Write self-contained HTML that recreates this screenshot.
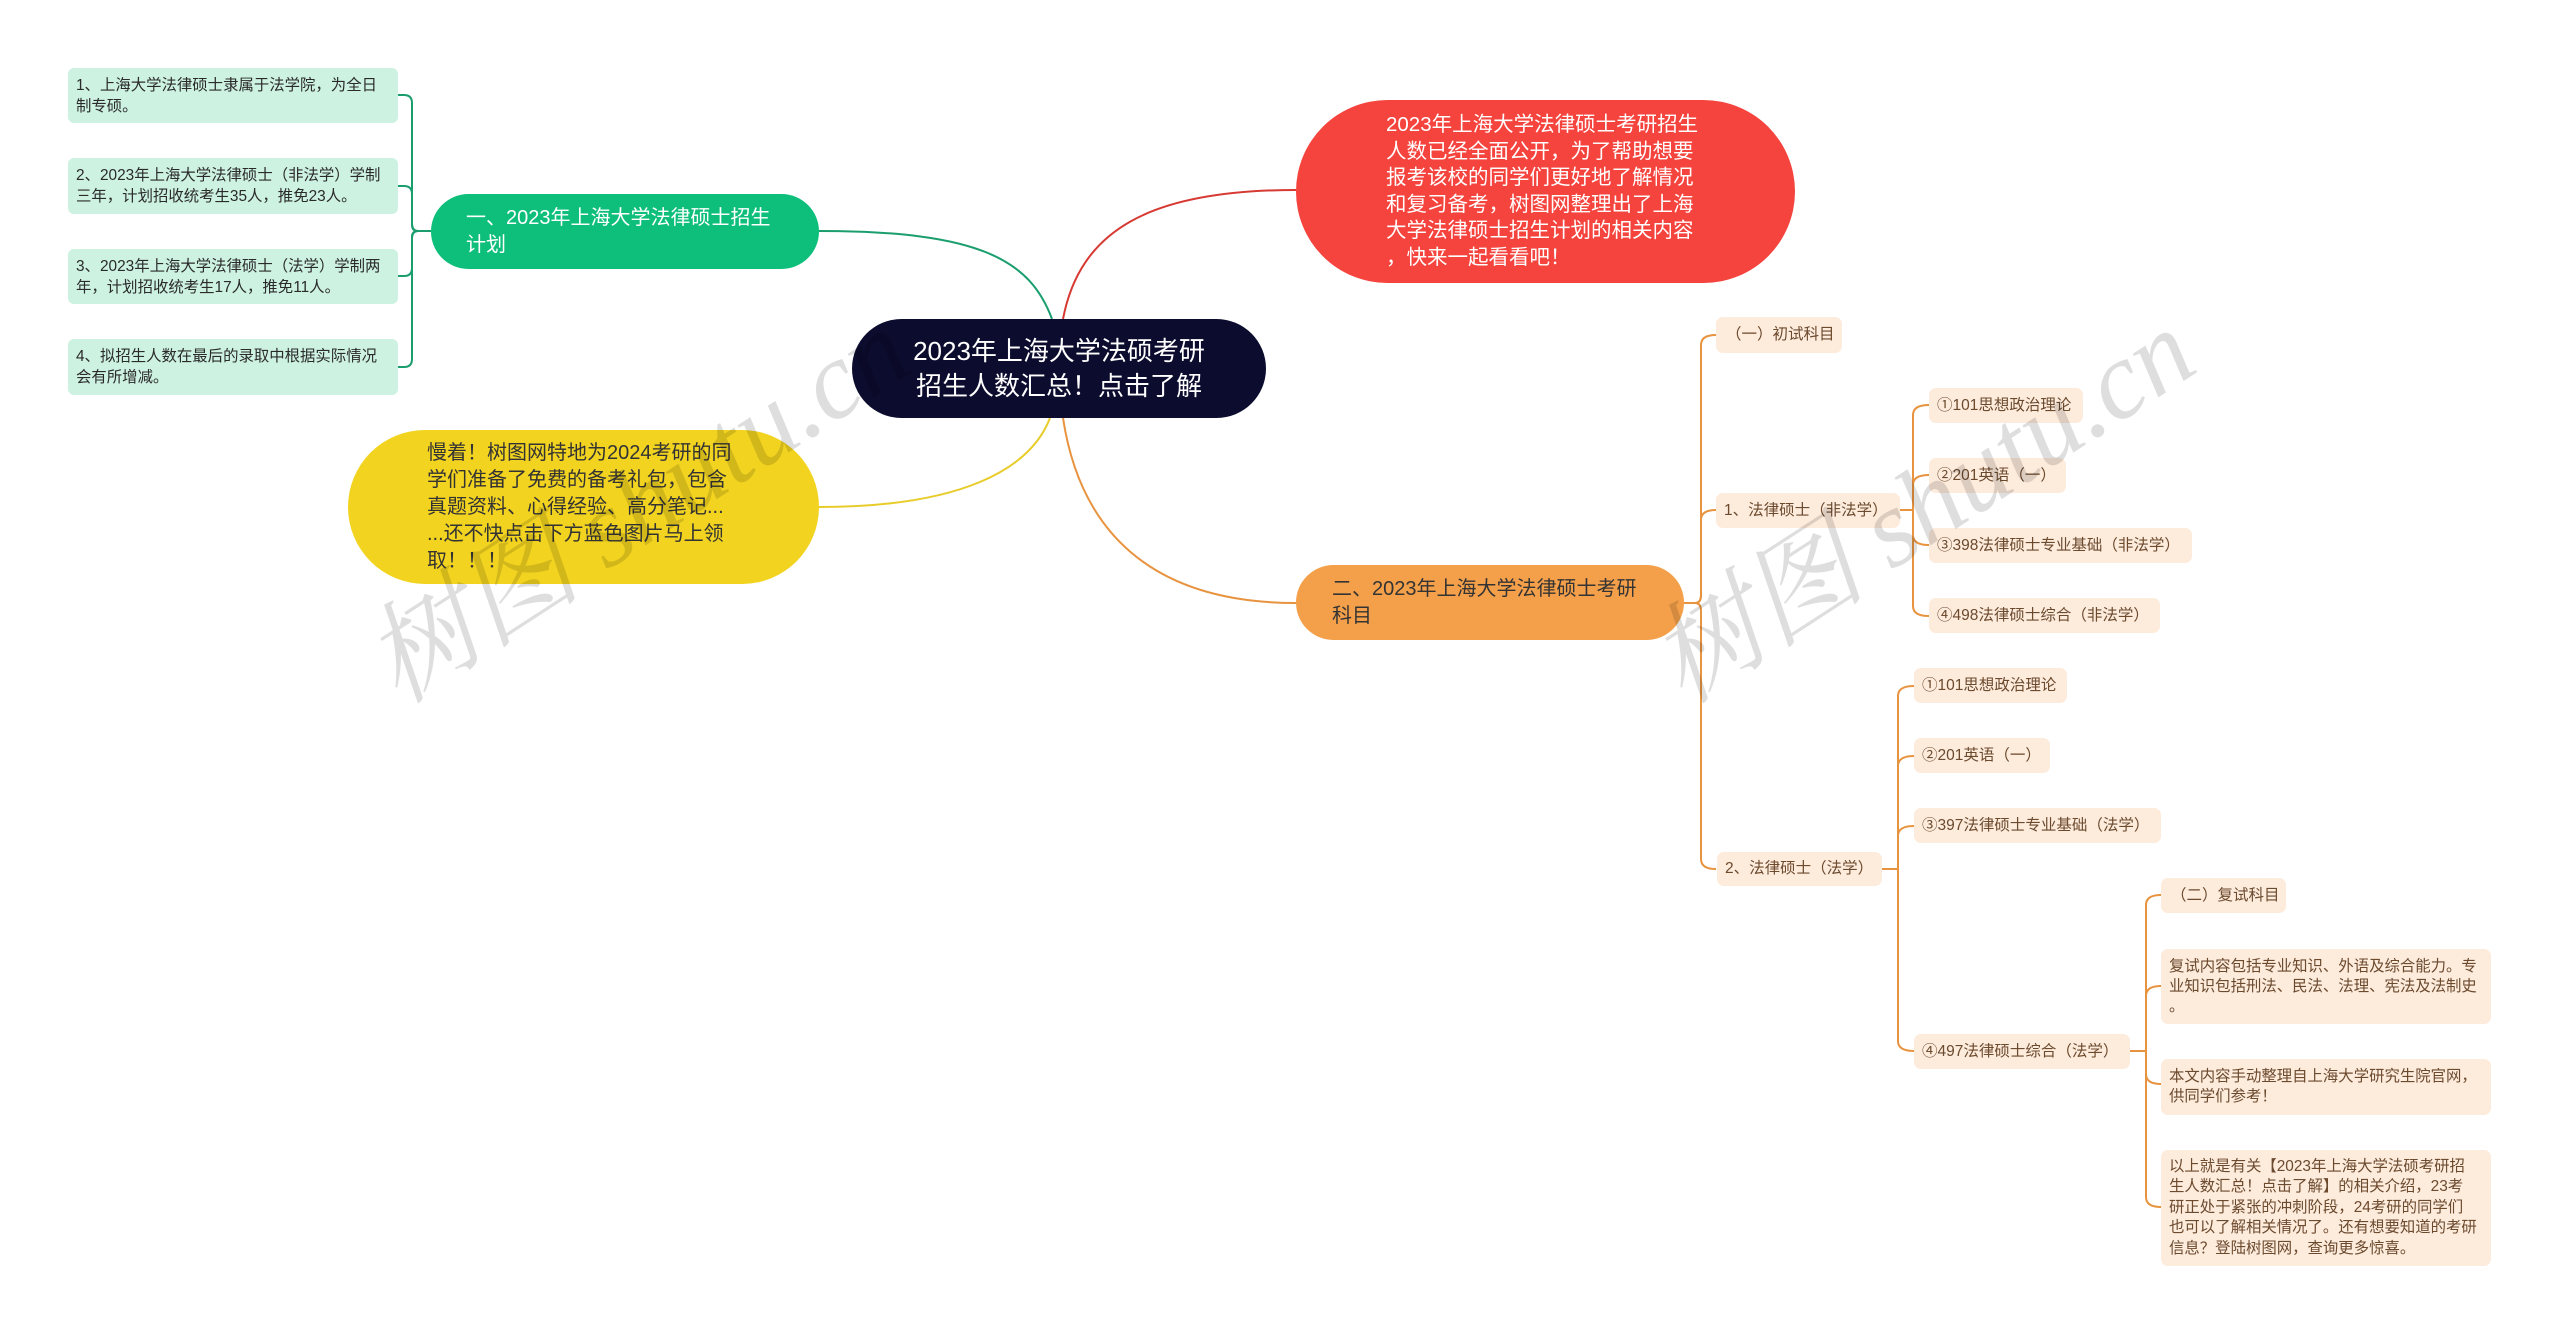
<!DOCTYPE html>
<html><head><meta charset="utf-8">
<style>
html,body{margin:0;padding:0;background:#fff;}
body{width:2560px;height:1335px;position:relative;overflow:hidden;font-family:"Liberation Sans","Noto Sans CJK SC",sans-serif;}
.b{position:absolute;box-sizing:border-box;display:flex;align-items:center;white-space:nowrap;}
.leaf{background:#cdf2e2;border-radius:6px;color:#2a2a2a;font-size:15.4px;line-height:21px;padding:0 6px 0 8px;}
.pe{background:#fdebdc;border-radius:7px;color:#6b4a2e;font-size:15.5px;line-height:22px;padding:0 10px;}
.wm{position:absolute;font-family:"Liberation Serif","Noto Serif CJK SC",serif;font-size:110px;color:rgba(0,0,0,0.13);transform:rotate(-33deg);transform-origin:left top;white-space:nowrap;font-style:italic;}
</style></head><body>
<svg width="2560" height="1335" style="position:absolute;left:0;top:0" fill="none" stroke-width="2">
<path d="M1063 319 C1080 230 1150 190 1296 190" stroke="#d63a33"/>
<path d="M1052 319 C1030 260 980 231 819 231" stroke="#1a9e6e"/>
<path d="M1050 418 C1030 470 960 507 819 507" stroke="#e8cc2a"/>
<path d="M1063 418 C1080 530 1150 603 1296 603" stroke="#e8933f"/>
<g stroke="#1a9e6e">
<path d="M431 231 H418 Q412 231 412 223 V103 Q412 95 404 95 H398"/>
<path d="M431 231 H418 Q412 231 412 225 V194 Q412 186 404 186 H398"/>
<path d="M431 231 H418 Q412 231 412 237 V268 Q412 276 404 276 H398"/>
<path d="M431 231 H418 Q412 231 412 239 V359 Q412 367 404 367 H398"/>
</g>
<g stroke="#e8933f">
<path d="M1684 603 H1695 Q1701 603 1701 595 V345 Q1701 335 1716 335"/>
<path d="M1684 603 H1695 Q1701 603 1701 595 V520 Q1701 510 1716 510"/>
<path d="M1684 603 H1695 Q1701 603 1701 611 V859 Q1701 869 1716 869"/>
<path d="M1900 510 H1913 V415 Q1913 405 1929 405"/>
<path d="M1900 510 H1913 V485 Q1913 475 1929 475"/>
<path d="M1900 510 H1913 V535 Q1913 545 1929 545"/>
<path d="M1900 510 H1913 V606 Q1913 616 1929 616"/>
<path d="M1882 869 H1898 V696 Q1898 686 1914 686"/>
<path d="M1882 869 H1898 V766 Q1898 756 1914 756"/>
<path d="M1882 869 H1898 V836 Q1898 826 1914 826"/>
<path d="M1882 869 H1898 V1041 Q1898 1051 1914 1051"/>
<path d="M2130 1051 H2146 V905 Q2146 895 2161 895"/>
<path d="M2130 1051 H2146 V996 Q2146 986 2161 986"/>
<path d="M2130 1051 H2146 V1074 Q2146 1084 2161 1084"/>
<path d="M2130 1051 H2146 V1197 Q2146 1207 2161 1207"/>
</g>
</svg>

<div class="b" style="left:852px;top:319px;width:414px;height:99px;background:#0c0c2e;border-radius:50px;color:#fff;font-size:26px;line-height:35px;justify-content:center;text-align:center;">2023年上海大学法硕考研<br>招生人数汇总！点击了解</div>

<div class="b" style="left:1296px;top:100px;width:499px;height:183px;background:#f5433d;border-radius:92px;color:#fff;font-size:20.5px;line-height:26.5px;padding-left:90px;"><div>2023年上海大学法律硕士考研招生<br>人数已经全面公开，为了帮助想要<br>报考该校的同学们更好地了解情况<br>和复习备考，树图网整理出了上海<br>大学法律硕士招生计划的相关内容<br>，快来一起看看吧！</div></div>

<div class="b" style="left:431px;top:194px;width:388px;height:75px;background:#0dbf7a;border-radius:38px;color:#fff;font-size:20px;line-height:27px;padding-left:35px;"><div>一、2023年上海大学法律硕士招生<br>计划</div></div>

<div class="b" style="left:348px;top:430px;width:471px;height:154px;background:#f2d320;border-radius:77px;color:#333;font-size:20px;line-height:27px;padding-left:79px;"><div>慢着！树图网特地为2024考研的同<br>学们准备了免费的备考礼包，包含<br>真题资料、心得经验、高分笔记...<br>...还不快点击下方蓝色图片马上领<br>取！！！</div></div>

<div class="b" style="left:1296px;top:565px;width:388px;height:75px;background:#f4a04a;border-radius:38px;color:#333;font-size:20px;line-height:27px;padding-left:36px;"><div>二、2023年上海大学法律硕士考研<br>科目</div></div>

<div class="b leaf" style="left:68px;top:68px;width:330px;height:55px;"><div>1、上海大学法律硕士隶属于法学院，为全日<br>制专硕。</div></div>
<div class="b leaf" style="left:68px;top:158px;width:330px;height:56px;"><div>2、2023年上海大学法律硕士（非法学）学制<br>三年，计划招收统考生35人，推免23人。</div></div>
<div class="b leaf" style="left:68px;top:249px;width:330px;height:55px;"><div>3、2023年上海大学法律硕士（法学）学制两<br>年，计划招收统考生17人，推免11人。</div></div>
<div class="b leaf" style="left:68px;top:339px;width:330px;height:56px;"><div>4、拟招生人数在最后的录取中根据实际情况<br>会有所增减。</div></div>

<div class="b pe" style="left:1716px;top:317px;width:126px;height:36px;">（一）初试科目</div>
<div class="b pe" style="left:1716px;top:493px;width:184px;height:35px;padding-left:8px;">1、法律硕士（非法学）</div>
<div class="b pe" style="left:1929px;top:388px;width:154px;height:35px;padding-left:8px;">①101思想政治理论</div>
<div class="b pe" style="left:1929px;top:458px;width:137px;height:35px;padding-left:8px;">②201英语（一）</div>
<div class="b pe" style="left:1929px;top:528px;width:263px;height:35px;padding-left:8px;">③398法律硕士专业基础（非法学）</div>
<div class="b pe" style="left:1929px;top:598px;width:231px;height:35px;padding-left:8px;">④498法律硕士综合（非法学）</div>

<div class="b pe" style="left:1717px;top:852px;width:165px;height:34px;padding-left:8px;">2、法律硕士（法学）</div>
<div class="b pe" style="left:1914px;top:668px;width:153px;height:35px;padding-left:8px;">①101思想政治理论</div>
<div class="b pe" style="left:1914px;top:738px;width:136px;height:35px;padding-left:8px;">②201英语（一）</div>
<div class="b pe" style="left:1914px;top:808px;width:247px;height:35px;padding-left:8px;">③397法律硕士专业基础（法学）</div>
<div class="b pe" style="left:1914px;top:1034px;width:216px;height:35px;padding-left:8px;">④497法律硕士综合（法学）</div>

<div class="b pe" style="left:2161px;top:878px;width:125px;height:35px;">（二）复试科目</div>
<div class="b pe" style="left:2161px;top:949px;width:330px;height:75px;padding-left:8px;font-size:15.4px;line-height:20px;"><div>复试内容包括专业知识、外语及综合能力。专<br>业知识包括刑法、民法、法理、宪法及法制史<br>。</div></div>
<div class="b pe" style="left:2161px;top:1059px;width:330px;height:56px;padding-left:8px;font-size:15.4px;line-height:20px;"><div>本文内容手动整理自上海大学研究生院官网，<br>供同学们参考！</div></div>
<div class="b pe" style="left:2161px;top:1150px;width:330px;height:116px;padding-left:8px;font-size:15.4px;line-height:20.5px;"><div>以上就是有关【2023年上海大学法硕考研招<br>生人数汇总！点击了解】的相关介绍，23考<br>研正处于紧张的冲刺阶段，24考研的同学们<br>也可以了解相关情况了。还有想要知道的考研<br>信息？登陆树图网，查询更多惊喜。</div></div>

<div class="wm" style="left:330px;top:600px;">树图 shutu.cn</div>
<div class="wm" style="left:1615px;top:600px;">树图 shutu.cn</div>
</body></html>
